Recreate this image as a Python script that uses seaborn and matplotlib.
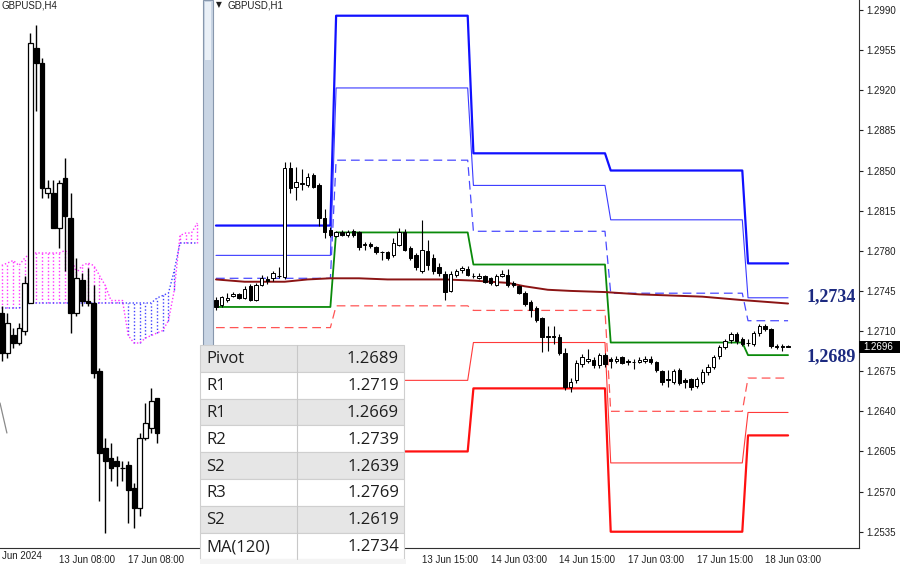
import numpy as np
import seaborn as sns
import matplotlib
matplotlib.use("Agg")
import matplotlib.pyplot as plt
from matplotlib.patches import Rectangle

# H1 candles, bar 0 = 12 Jun 03:00 (trading hours only, weekend skipped)
h1_open = [1.2737, 1.2733, 1.2737, 1.2741, 1.2742, 1.2739, 1.2749, 1.2737, 1.2750, 1.2755,
           1.2756, 1.2758, 1.2757, 1.2852, 1.2836, 1.2838, 1.2837, 1.2846, 1.2837, 1.2809,
           1.2798, 1.2793, 1.2796, 1.2794, 1.2797, 1.2796, 1.2785, 1.2786, 1.2783, 1.2779,
           1.2779, 1.2776, 1.2785, 1.2796, 1.2782, 1.2776, 1.2762, 1.2780, 1.2774, 1.2766,
           1.2760, 1.2745, 1.2759, 1.2763, 1.2764, 1.2758, 1.2756, 1.2758, 1.2756, 1.2750,
           1.2758, 1.2759, 1.2752, 1.2749, 1.2743, 1.2735, 1.2730, 1.2721, 1.2706, 1.2706,
           1.2705, 1.2691, 1.2661, 1.2667, 1.2681, 1.2684, 1.2685, 1.2680, 1.2689, 1.2686,
           1.2684, 1.2687, 1.2684, 1.2683, 1.2683, 1.2684, 1.2686, 1.2683, 1.2675, 1.2668,
           1.2666, 1.2676, 1.2667, 1.2668, 1.2662, 1.2666, 1.2674, 1.2679, 1.2688, 1.2696,
           1.2702, 1.2707, 1.2703, 1.2700, 1.2699, 1.2708, 1.2714, 1.2712, 1.2697, 1.2696,
           1.2697]
h1_high = [1.2740, 1.2741, 1.2743, 1.2744, 1.2743, 1.2749, 1.2751, 1.2752, 1.2759, 1.2758,
           1.2762, 1.2766, 1.2857, 1.2857, 1.2853, 1.2851, 1.2848, 1.2848, 1.2839, 1.2816,
           1.2801, 1.2797, 1.2798, 1.2798, 1.2799, 1.2797, 1.2788, 1.2788, 1.2784, 1.2780,
           1.2780, 1.2791, 1.2800, 1.2799, 1.2784, 1.2778, 1.2807, 1.2789, 1.2777, 1.2769,
           1.2762, 1.2762, 1.2764, 1.2767, 1.2767, 1.2761, 1.2761, 1.2759, 1.2757, 1.2760,
           1.2763, 1.2764, 1.2754, 1.2750, 1.2745, 1.2737, 1.2732, 1.2722, 1.2714, 1.2714,
           1.2707, 1.2695, 1.2669, 1.2685, 1.2690, 1.2694, 1.2687, 1.2691, 1.2691, 1.2687,
           1.2688, 1.2688, 1.2686, 1.2686, 1.2687, 1.2688, 1.2688, 1.2684, 1.2676, 1.2676,
           1.2677, 1.2678, 1.2669, 1.2669, 1.2670, 1.2677, 1.2681, 1.2689, 1.2698, 1.2703,
           1.2709, 1.2709, 1.2705, 1.2703, 1.2710, 1.2716, 1.2716, 1.2713, 1.2699, 1.2699,
           1.2698]
h1_low = [1.2728, 1.2731, 1.2735, 1.2740, 1.2738, 1.2738, 1.2736, 1.2736, 1.2749, 1.2751,
          1.2754, 1.2756, 1.2755, 1.2830, 1.2824, 1.2833, 1.2836, 1.2835, 1.2802, 1.2791,
          1.2792, 1.2792, 1.2793, 1.2792, 1.2792, 1.2781, 1.2781, 1.2782, 1.2777, 1.2772,
          1.2772, 1.2775, 1.2784, 1.2780, 1.2772, 1.2763, 1.2761, 1.2763, 1.2760, 1.2758,
          1.2737, 1.2744, 1.2757, 1.2761, 1.2758, 1.2756, 1.2755, 1.2752, 1.2750, 1.2749,
          1.2757, 1.2748, 1.2748, 1.2742, 1.2732, 1.2722, 1.2718, 1.2692, 1.2693, 1.2699,
          1.2689, 1.2659, 1.2657, 1.2665, 1.2679, 1.2682, 1.2678, 1.2678, 1.2679, 1.2678,
          1.2682, 1.2681, 1.2680, 1.2677, 1.2682, 1.2682, 1.2681, 1.2674, 1.2663, 1.2661,
          1.2664, 1.2663, 1.2660, 1.2659, 1.2660, 1.2664, 1.2672, 1.2677, 1.2686, 1.2694,
          1.2700, 1.2699, 1.2697, 1.2697, 1.2697, 1.2706, 1.2710, 1.2695, 1.2694, 1.2693,
          1.2696]
h1_close = [1.2731, 1.2740, 1.2739, 1.2742, 1.2739, 1.2747, 1.2737, 1.2750, 1.2756, 1.2754,
            1.2761, 1.2758, 1.2852, 1.2835, 1.2840, 1.2839, 1.2844, 1.2836, 1.2809, 1.2796,
            1.2794, 1.2796, 1.2794, 1.2796, 1.2794, 1.2783, 1.2786, 1.2784, 1.2779, 1.2779,
            1.2774, 1.2787, 1.2796, 1.2781, 1.2774, 1.2766, 1.2781, 1.2768, 1.2762, 1.2761,
            1.2744, 1.2760, 1.2762, 1.2765, 1.2759, 1.2758, 1.2758, 1.2753, 1.2752, 1.2758,
            1.2760, 1.2750, 1.2750, 1.2743, 1.2734, 1.2728, 1.2720, 1.2705, 1.2705, 1.2705,
            1.2691, 1.2661, 1.2666, 1.2682, 1.2687, 1.2686, 1.2680, 1.2689, 1.2681, 1.2684,
            1.2686, 1.2682, 1.2683, 1.2683, 1.2685, 1.2686, 1.2683, 1.2676, 1.2666, 1.2667,
            1.2675, 1.2665, 1.2666, 1.2661, 1.2668, 1.2674, 1.2679, 1.2687, 1.2696, 1.2701,
            1.2707, 1.2701, 1.2699, 1.2700, 1.2708, 1.2714, 1.2712, 1.2697, 1.2696, 1.2697,
            1.2696]

h1_tick_bars = [36, 48, 60, 72, 84, 96]
h1_tick_labels = ["13 Jun 15:00", "14 Jun 03:00", "14 Jun 15:00",
                  "17 Jun 03:00", "17 Jun 15:00", "18 Jun 03:00"]
h1_yticks = [1.2535, 1.2570, 1.2605, 1.2640, 1.2675, 1.2710, 1.2745,
             1.2780, 1.2815, 1.2850, 1.2885, 1.2920, 1.2955, 1.2990]

# daily pivot levels
pivot_days = ["12 Jun", "13 Jun", "14 Jun", "17 Jun", "18 Jun"]
day_first_bar = [0, 21, 45, 69, 93]
day_last_bar = [20, 44, 68, 92, 100]
r3 = [1.2802, 1.2985, 1.2865, 1.2850, 1.2769]
r2 = [1.2776, 1.2922, 1.2837, 1.2807, 1.2739]
r1 = [1.2756, 1.2859, 1.2797, 1.2743, 1.2719]
pivot = [1.2731, 1.2796, 1.2768, 1.2700, 1.2689]
s1 = [1.2713, 1.2732, 1.2728, 1.2640, 1.2669]
s2 = [1.2693, 1.2667, 1.2700, 1.2595, 1.2639]
s3 = [1.2667, 1.2605, 1.2660, 1.2535, 1.2619]

# MA(120) read at a few bars
ma_bars = [0, 5, 12, 16, 20, 25, 30, 40, 45, 51, 54, 58, 62, 68, 74, 85, 92, 100]
ma_vals = [1.2755, 1.2753, 1.2753, 1.2755, 1.2756, 1.2756, 1.2755, 1.2755, 1.2754,
           1.2752, 1.2749, 1.2746, 1.2745, 1.2744, 1.2742, 1.2740, 1.2737, 1.2734]

# H4 candles, bar 0 = 11 Jun 16:00
h4_open = [1.2746, 1.2730, 1.2737, 1.2734, 1.2739, 1.2750, 1.2852, 1.2846, 1.2794, 1.2794,
           1.2780, 1.2800, 1.2784, 1.2746, 1.2759, 1.2751, 1.2750, 1.2723, 1.2692, 1.2688,
           1.2687, 1.2684, 1.2685, 1.2676, 1.2668, 1.2696, 1.2700, 1.2712]
h4_high = [1.2749, 1.2746, 1.2740, 1.2742, 1.2761, 1.2858, 1.2861, 1.2848, 1.2799, 1.2799,
           1.2799, 1.2808, 1.2794, 1.2768, 1.2762, 1.2764, 1.2757, 1.2724, 1.2696, 1.2694,
           1.2689, 1.2687, 1.2687, 1.2678, 1.2698, 1.2710, 1.2716, 1.2712]
h4_low = [1.2727, 1.2728, 1.2732, 1.2733, 1.2737, 1.2750, 1.2827, 1.2792, 1.2792, 1.2780,
          1.2772, 1.2763, 1.2738, 1.2745, 1.2749, 1.2749, 1.2720, 1.2671, 1.2658, 1.2679,
          1.2677, 1.2679, 1.2662, 1.2660, 1.2665, 1.2695, 1.2698, 1.2694]
h4_close = [1.2730, 1.2742, 1.2734, 1.2740, 1.2758, 1.2854, 1.2846, 1.2796, 1.2796, 1.2780,
            1.2798, 1.2785, 1.2746, 1.2760, 1.2751, 1.2750, 1.2722, 1.2690, 1.2687, 1.2684,
            1.2685, 1.2684, 1.2675, 1.2668, 1.2696, 1.2702, 1.2711, 1.2698]
h4_tick_bars = [10, 22]
h4_tick_labels = ["13 Jun 08:00", "17 Jun 08:00"]

# Ichimoku cloud spans (shifted forward)
span_a = [1.2765, 1.2766, 1.2767, 1.2765, 1.2768, 1.2770, 1.2770, 1.2770, 1.2770, 1.2770,
          1.2770, 1.2771, 1.2769, 1.2762, 1.2765, 1.2766, 1.2765, 1.2761, 1.2757, 1.2751,
          1.2751, 1.2751, 1.2737, 1.2734, 1.2734, 1.2736, 1.2737, 1.2738, 1.2739, 1.2743,
          1.2755, 1.2777, 1.2778, 1.2778, 1.2782]
span_b = [1.2748, 1.2748, 1.2748, 1.2748, 1.2749, 1.2750, 1.2750, 1.2750, 1.2750, 1.2750,
          1.2750, 1.2750, 1.2750, 1.2750, 1.2750, 1.2750, 1.2750, 1.2750, 1.2750, 1.2750,
          1.2750, 1.2750, 1.2750, 1.2750, 1.2750, 1.2750, 1.2750, 1.2752, 1.2753, 1.2754,
          1.2763, 1.2774, 1.2774, 1.2774, 1.2774]
chikou_x = [-0.3, 0.9]
chikou_y = [1.2710, 1.2698]

table_names = ["Pivot", "R1", "R1", "R2", "S2", "R3", "S2", "MA(120)"]
table_vals = [pivot[-1], r1[-1], s1[-1], r2[-1], s2[-1], r3[-1], s3[-1], ma_vals[-1]]


def draw_candles(ax, o, h, l, c, width, lw):
    o, h, l, c = map(np.asarray, (o, h, l, c))
    x = np.arange(len(o))
    ax.vlines(x, l, h, color="black", lw=lw, zorder=3)
    body_col = np.where(c >= o, "white", "black")
    ax.bar(x, np.abs(c - o), width, bottom=np.minimum(o, c), color=body_col,
           edgecolor="black", linewidth=lw * 0.9, zorder=4)


sns.set_style("white")
plt.rcParams["font.family"] = ["Liberation Sans", "DejaVu Sans"]

W, H = 900, 564
fig = plt.figure(figsize=(9, 5.64), dpi=100)


def box(x0, y0, x1, y1):
    return [x0 / W, 1 - y1 / H, (x1 - x0) / W, (y1 - y0) / H]


ax4 = fig.add_axes(box(0, 0, 203, 548))
ax1 = fig.add_axes(box(213, 0, 859, 548))

# ---- left panel: H4 with cloud
k = np.arange(len(span_a))
sa, sb = np.array(span_a), np.array(span_b)
cloud_col = np.where(sa >= sb, "#ff33ff", "#4040ff")
ax4.vlines(k, np.minimum(sa, sb), np.maximum(sa, sb), colors=cloud_col,
           linestyles=[(0, (1, 1.5))], lw=1.0, zorder=1)
sns.lineplot(x=k, y=sa, ax=ax4, color="#ff33ff", lw=1.0, linestyle=(0, (1, 1.5)))
sns.lineplot(x=k, y=sb, ax=ax4, color="#4040ff", lw=1.0, linestyle=(0, (1, 1.5)))
sns.lineplot(x=chikou_x, y=chikou_y, ax=ax4, color="#8a8a8a", lw=0.9)
draw_candles(ax4, h4_open, h4_high, h4_low, h4_close, 0.8, 1.0)
ax4.set_xlim(-0.3, 35.0)
ax4.set_ylim(1.2652, 1.28712)
ax4.set_yticks([])
ax4.set_xticks(h4_tick_bars)
ax4.set_xticklabels(h4_tick_labels, ha="left")
ax4.tick_params(axis="x", length=4, width=0.8, pad=1, labelsize=7, colors="#202020")
for s in ["top", "left", "right"]:
    ax4.spines[s].set_visible(False)
ax4.spines["bottom"].set_color("#303030")
ax4.set_xlabel("")
ax4.set_ylabel("")

# ---- right panel: H1 with pivots
styles = {
    "R3": (r3, "#1010ff", 1.6, "-"),
    "R2": (r2, "#3a3aff", 0.8, "-"),
    "R1": (r1, "#4a4aff", 0.9, (0, (7, 4))),
    "Pivot": (pivot, "#0a8a0a", 1.3, "-"),
    "S1": (s1, "#ff5555", 0.9, (0, (7, 4))),
    "S2": (s2, "#ff3a3a", 0.8, "-"),
    "S3": (s3, "#ff1010", 1.6, "-"),
}
for name, (vals, col, lw, ls) in styles.items():
    xs, ys = [], []
    for d, v in enumerate(vals):
        for b in range(day_first_bar[d], day_last_bar[d] + 1):
            xs.append(b)
            ys.append(v)
    sns.lineplot(x=xs, y=ys, ax=ax1, color=col, lw=lw, linestyle=ls)
sns.lineplot(x=ma_bars, y=ma_vals, ax=ax1, color="#8b1414", lw=1.4)
draw_candles(ax1, h1_open, h1_high, h1_low, h1_close, 0.6, 0.8)

ax1.set_xlim(-0.52, 112.4)
ax1.set_ylim(1.25208, 1.29987)
ax1.set_xlabel("")
ax1.set_ylabel("")
ax1.spines["top"].set_visible(False)
ax1.spines["left"].set_visible(False)
for s in ["bottom", "right"]:
    ax1.spines[s].set_color("#303030")
ax1.yaxis.tick_right()
ax1.set_yticks(h1_yticks)
ax1.set_yticklabels([f"{v:.4f}" for v in h1_yticks])
ax1.tick_params(axis="y", right=True, left=False, length=3, width=0.8, pad=2,
                labelsize=7, colors="#202020")
ax1.set_xticks(h1_tick_bars)
ax1.set_xticklabels(h1_tick_labels, ha="left")
ax1.tick_params(axis="x", length=4, width=0.8, pad=1, labelsize=7, colors="#202020")

yt = ax1.get_yaxis_transform()
ax1.annotate(f"{ma_vals[-1]:.4f}".replace(".", ","), xy=(0.9567, ma_vals[-1]), xycoords=yt,
             xytext=(0, 4.7), textcoords="offset points", ha="center", va="center",
             fontsize=13, fontweight="bold", family="Liberation Serif", color="#1c2a80")
ax1.annotate(f"{pivot[-1]:.4f}".replace(".", ","), xy=(0.9567, pivot[-1]), xycoords=yt,
             xytext=(0, -1.4), textcoords="offset points", ha="center", va="center",
             fontsize=13, fontweight="bold", family="Liberation Serif", color="#1c2a80")

last = h1_close[-1]
ax1.add_patch(Rectangle((1.0, last - 0.00053), 41 / 646, 0.00106, transform=yt,
                        facecolor="black", edgecolor="none", clip_on=False, zorder=6))
ax1.text(1.0 + 4 / 646, last, f"{last:.4f}", transform=yt, color="white", fontsize=7,
         va="center", ha="left", clip_on=False, zorder=7)

# ---- overlay: separator, titles, data window table
ov = fig.add_axes([0, 0, 1, 1])
ov.set_xlim(0, W)
ov.set_ylim(H, 0)
ov.axis("off")
ov.set_zorder(10)

ov.add_patch(Rectangle((203, 0), 10, 548, facecolor="#c9d5e4", edgecolor="#8797ad", lw=0.8))
ov.add_patch(Rectangle((205, 2), 6, 58, facecolor="#eaf0f7", edgecolor="none"))
ov.text(2, 6, "GBPUSD,H4", fontsize=7, va="center", ha="left", color="#202020")
ov.text(216, 5, "▼", fontsize=5.5, va="center", ha="left", color="#202020",
        family="DejaVu Sans")
ov.text(227, 6, "GBPUSD,H1", fontsize=7, va="center", ha="left", color="#202020")
ov.text(2, 556, "Jun 2024", fontsize=7, va="center", ha="left", color="#202020")

row_h = 26.8
top = 345
for i, (nm, v) in enumerate(zip(table_names, table_vals)):
    y0 = top + i * row_h
    fc = "#e6e6e6" if i % 2 == 0 else "white"
    ov.add_patch(Rectangle((200, y0), 204, row_h, facecolor=fc, edgecolor="#cfcfcf", lw=0.8))
    ov.text(206, y0 + row_h / 2 + 1, nm, fontsize=12, family="Open Sans",
            va="center", ha="left", color="#1e1e1e")
    ov.text(399, y0 + row_h / 2 + 1, f"{v:.4f}", fontsize=12, family="Open Sans",
            va="center", ha="right", color="#1e1e1e")
ov.plot([297, 297], [top, top + 8 * row_h], color="#c8c8c8", lw=0.8)
ov.add_patch(Rectangle((200, top + 8 * row_h), 206, H - top - 8 * row_h,
                       facecolor="#f4f4f4", edgecolor="none"))

fig.savefig("out.png", dpi=100)
